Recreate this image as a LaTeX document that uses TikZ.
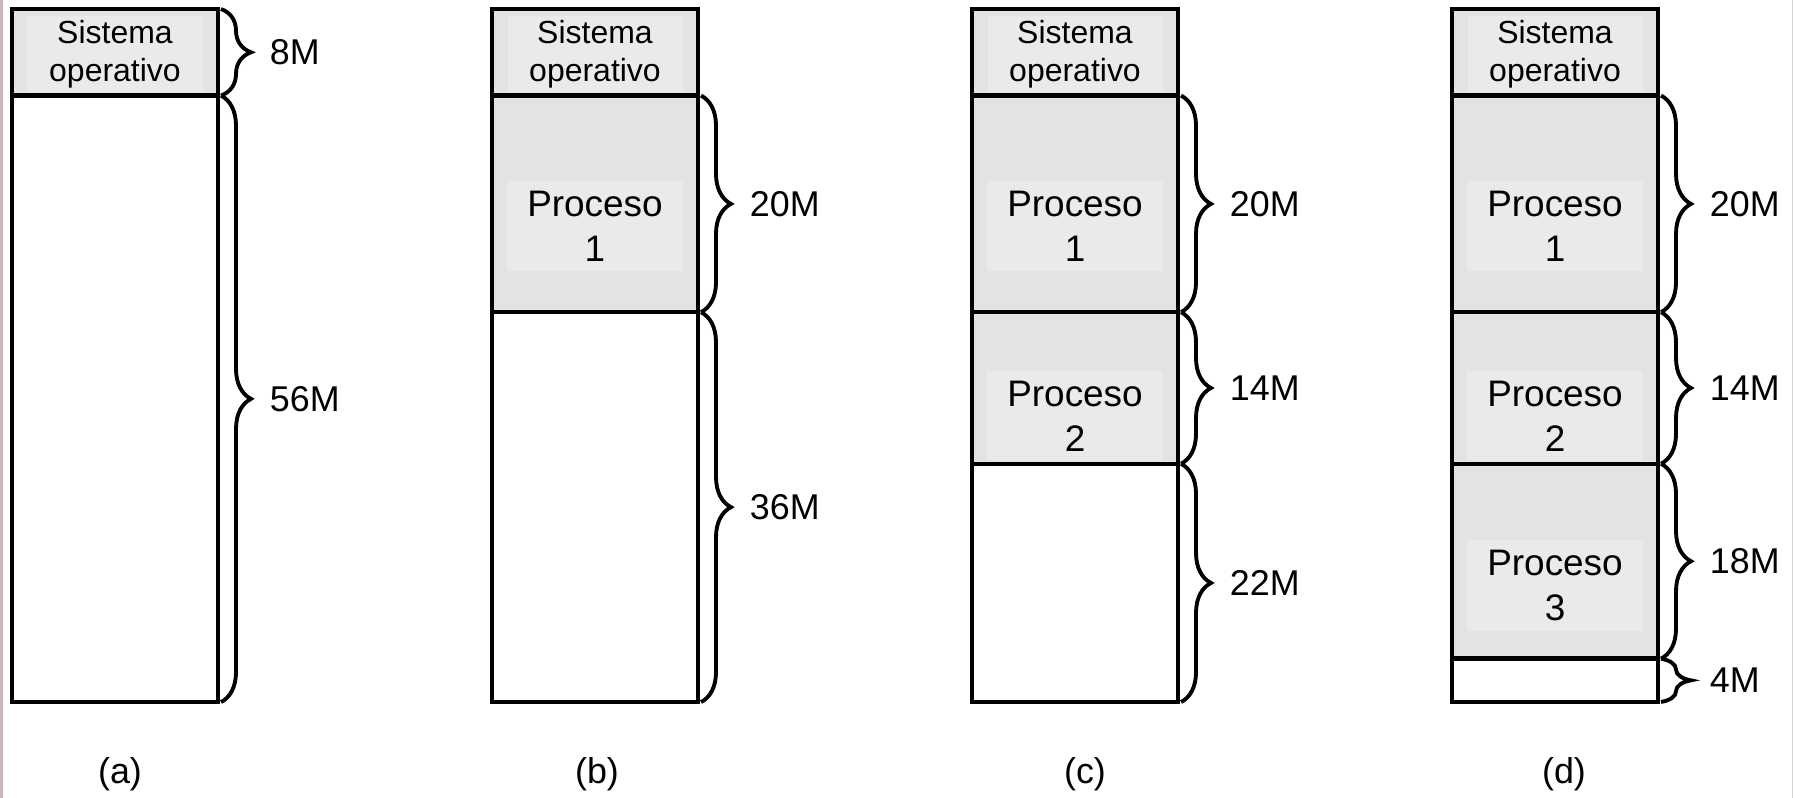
\documentclass[tikz,border=0pt]{standalone}
\usepackage{fontspec}
\setmainfont{Liberation Sans}
\usetikzlibrary{positioning,decorations.pathreplacing}
\definecolor{memgray}{HTML}{E3E3E3}
\definecolor{txtgray}{HTML}{EAEAEA}
\definecolor{edgepink}{HTML}{C9B9B9}
\definecolor{edgegray}{HTML}{D4D4D4}

\begin{document}
\begin{tikzpicture}
        \tikzstyle{mem}=[rectangle,draw=black,line width=1.3pt,minimum width=2.06cm,inner sep=0pt,outer sep=0pt]
        \tikzstyle{used}=[mem,fill=memgray]
        \tikzstyle{txt}=[fill=txtgray,align=center,inner xsep=0.2cm,inner ysep=0.1cm,font=\fontsize{10.5}{12.8}\selectfont]
        \tikzstyle{sotxt}=[fill=txtgray,align=center,inner sep=0pt,minimum width=1.75cm,minimum height=0.76cm,font=\fontsize{9.1}{10.8}\selectfont]
        \tikzstyle{brc}=[decorate,decoration={brace,amplitude=0.3cm},line width=1.1pt]
        \tikzstyle{tam}=[midway,right=0.47cm,inner sep=0pt,font=\fontsize{10.2}{12}\selectfont]
        \tikzstyle{sub}=[inner sep=0pt,font=\fontsize{10.2}{12}\selectfont]

        \useasboundingbox (0,0) rectangle (17.93,-7.98);
        \draw[edgepink,line width=0.03cm] (0.015,0) -- (0.015,-7.98);
        \draw[edgegray,line width=0.01cm] (17.92,0) -- (17.92,-7.98);

        % (a)
        \begin{scope}
          \node[used,minimum height=0.866cm,anchor=north west](a0) at (0.12,-0.09){};
          \node[sotxt](s1) at ([yshift=-0.02cm]a0.center){Sistema\\operativo};
          \node[mem,minimum height=6.065cm](a1)[below=0pt of a0]{};

          \draw[brc] ([xshift=0.03cm]a0.north east) -- ([xshift=0.03cm]a0.south east) node[tam]{8M};
          \draw[brc] ([xshift=0.03cm]a1.north east) -- ([xshift=0.03cm]a1.south east) node[tam]{56M};

          \node[sub](la)[below=0.55cm of a1,xshift=0.05cm]{(a)};
        \end{scope}

        % (b)
        \begin{scope}
          \node[used,minimum height=0.866cm,anchor=north west](b0) at (4.92,-0.09){};
          \node[sotxt](s2) at ([yshift=-0.02cm]b0.center){Sistema\\operativo};
          \node[used,minimum height=2.166cm](b1)[below=0pt of b0]{};
          \node[txt](t1) at ([yshift=-0.22cm]b1.center){Proceso\\1};
          \node[mem,minimum height=3.899cm](b2)[below=0pt of b1]{};

          \draw[brc] ([xshift=0.03cm]b1.north east) -- ([xshift=0.03cm]b1.south east) node[tam]{20M};
          \draw[brc] ([xshift=0.03cm]b2.north east) -- ([xshift=0.03cm]b2.south east) node[tam]{36M};

          \node[sub](lb)[below=0.55cm of b2,xshift=0.02cm]{(b)};
        \end{scope}

        % (c)
        \begin{scope}
          \node[used,minimum height=0.866cm,anchor=north west](c0) at (9.72,-0.09){};
          \node[sotxt](s3) at ([yshift=-0.02cm]c0.center){Sistema\\operativo};
          \node[used,minimum height=2.166cm](c1)[below=0pt of c0]{};
          \node[txt](t2) at ([yshift=-0.22cm]c1.center){Proceso\\1};
          \node[used,minimum height=1.516cm](c2)[below=0pt of c1]{};
          \node[txt](t3) at ([yshift=-0.28cm]c2.center){Proceso\\2};
          \node[mem,minimum height=2.383cm](c3)[below=0pt of c2]{};

          \draw[brc] ([xshift=0.03cm]c1.north east) -- ([xshift=0.03cm]c1.south east) node[tam]{20M};
          \draw[brc] ([xshift=0.03cm]c2.north east) -- ([xshift=0.03cm]c2.south east) node[tam]{14M};
          \draw[brc] ([xshift=0.03cm]c3.north east) -- ([xshift=0.03cm]c3.south east) node[tam]{22M};

          \node[sub](lc)[below=0.55cm of c3,xshift=0.1cm]{(c)};
        \end{scope}

        % (d)
        \begin{scope}
          \node[used,minimum height=0.866cm,anchor=north west](d0) at (14.52,-0.09){};
          \node[sotxt](s4) at ([yshift=-0.02cm]d0.center){Sistema\\operativo};
          \node[used,minimum height=2.166cm](d1)[below=0pt of d0]{};
          \node[txt](t4) at ([yshift=-0.22cm]d1.center){Proceso\\1};
          \node[used,minimum height=1.516cm](d2)[below=0pt of d1]{};
          \node[txt](t5) at ([yshift=-0.28cm]d2.center){Proceso\\2};
          \node[used,minimum height=1.949cm](d3)[below=0pt of d2]{};
          \node[txt](t6) at ([yshift=-0.24cm]d3.center){Proceso\\3};
          \node[mem,minimum height=0.433cm](d4)[below=0pt of d3]{};

          \draw[brc] ([xshift=0.03cm]d1.north east) -- ([xshift=0.03cm]d1.south east) node[tam]{20M};
          \draw[brc] ([xshift=0.03cm]d2.north east) -- ([xshift=0.03cm]d2.south east) node[tam]{14M};
          \draw[brc] ([xshift=0.03cm]d3.north east) -- ([xshift=0.03cm]d3.south east) node[tam]{18M};
          \draw[brc] ([xshift=0.03cm]d4.north east) -- ([xshift=0.03cm]d4.south east) node[tam]{4M};

          \node[sub](ld)[below=0.55cm of d4,xshift=0.09cm]{(d)};
        \end{scope}
      \end{tikzpicture}
\end{document}
